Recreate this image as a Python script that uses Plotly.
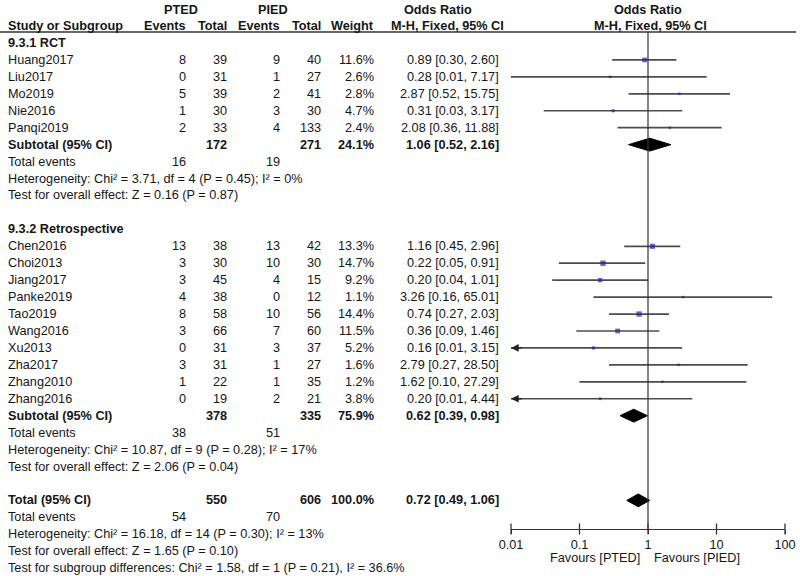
import plotly.graph_objects as go
import numpy as np

# ---------------- data ----------------
rct_studies = ["Huang2017", "Liu2017", "Mo2019", "Nie2016", "Panqi2019"]
rct_pted_events = [8, 0, 5, 1, 2]
rct_pted_total = [39, 31, 39, 30, 33]
rct_pied_events = [9, 1, 2, 3, 4]
rct_pied_total = [40, 27, 41, 30, 133]
rct_weight = [11.6, 2.6, 2.8, 4.7, 2.4]
rct_or = [0.89, 0.28, 2.87, 0.31, 2.08]
rct_lo = [0.30, 0.01, 0.52, 0.03, 0.36]
rct_hi = [2.60, 7.17, 15.75, 3.17, 11.88]
rct_arrow = [False, False, False, False, False]

ret_studies = ["Chen2016", "Choi2013", "Jiang2017", "Panke2019", "Tao2019",
               "Wang2016", "Xu2013", "Zha2017", "Zhang2010", "Zhang2016"]
ret_pted_events = [13, 3, 3, 4, 8, 3, 0, 3, 1, 0]
ret_pted_total = [38, 30, 45, 38, 58, 66, 31, 31, 22, 19]
ret_pied_events = [13, 10, 4, 0, 10, 7, 3, 1, 1, 2]
ret_pied_total = [42, 30, 15, 12, 56, 60, 37, 27, 35, 21]
ret_weight = [13.3, 14.7, 9.2, 1.1, 14.4, 11.5, 5.2, 1.6, 1.2, 3.8]
ret_or = [1.16, 0.22, 0.20, 3.26, 0.74, 0.36, 0.16, 2.79, 1.62, 0.20]
ret_lo = [0.45, 0.05, 0.04, 0.16, 0.27, 0.09, 0.01, 0.27, 0.10, 0.01]
ret_hi = [2.96, 0.91, 1.01, 65.01, 2.03, 1.46, 3.15, 28.50, 27.29, 4.44]
ret_arrow = [False, False, False, False, False, False, True, False, False, True]

# subtotals: [pted_total, pied_total, weight, or, lo, hi, pted_events, pied_events]
rct_sub = [172, 271, "24.1%", 1.06, 0.52, 2.16, 16, 19]
rct_het = "Heterogeneity: Chi² = 3.71, df = 4 (P = 0.45); I² = 0%"
rct_test = "Test for overall effect: Z = 0.16 (P = 0.87)"
ret_sub = [378, 335, "75.9%", 0.62, 0.39, 0.98, 38, 51]
ret_het = "Heterogeneity: Chi² = 10.87, df = 9 (P = 0.28); I² = 17%"
ret_test = "Test for overall effect: Z = 2.06 (P = 0.04)"
tot = [550, 606, "100.0%", 0.72, 0.49, 1.06, 54, 70]
tot_het = "Heterogeneity: Chi² = 16.18, df = 14 (P = 0.30); I² = 13%"
tot_test = "Test for overall effect: Z = 1.65 (P = 0.10)"
subgroup_test = "Test for subgroup differences: Chi² = 1.58, df = 1 (P = 0.21), I² = 36.6%"

tick_vals = [0.01, 0.1, 1, 10, 100]
tick_text = ["0.01", "0.1", "1", "10", "100"]

# ---------------- layout helpers ----------------
W, H = 800, 576
ROW0, ROWH = 43.0, 16.94
def yrow(py):                # pixel y -> row units
    return (py - ROW0) / ROWH
def px(xp):                  # pixel x -> paper
    return xp / W
def py(yp):                  # pixel y -> paper
    return 1 - yp / H

FONT = "Liberation Sans, Arial, sans-serif"
FS = 12.7
TXT = "#161616"
LINE = "#4c4c4c"
BLUE = "#2424a4"

COL_STUDY = 7
COL_PTE = 187
COL_PTT = 228
COL_PIE = 281
COL_PIT = 322
COL_W = 375
COL_OR = 500

ann = []
def txt(xpx, row, s, anchor="right", bold=False, size=FS):
    ann.append(dict(x=px(xpx), xref="paper", y=row, yref="y",
                    text=f"<b>{s}</b>" if bold else str(s), showarrow=False,
                    xanchor=anchor, yanchor="middle", borderpad=0,
                    font=dict(family=FONT, size=size, color=TXT)))

def fmt_or(o, l, h):
    return f"{o:.2f} [{l:.2f}, {h:.2f}]"

fig = go.Figure()

# header
txt(181, yrow(10), "PTED", anchor="center", bold=True)
txt(273, yrow(10), "PIED", anchor="center", bold=True)
txt(438, yrow(10), "Odds Ratio", anchor="center", bold=True)
txt(648, yrow(10), "Odds Ratio", anchor="center", bold=True)
hr = yrow(26)
txt(COL_STUDY, hr, "Study or Subgroup", anchor="left", bold=True)
txt(COL_PTE, hr, "Events", bold=True)
txt(COL_PTT, hr, "Total", bold=True)
txt(COL_PIE, hr, "Events", bold=True)
txt(COL_PIT, hr, "Total", bold=True)
txt(COL_W, hr, "Weight", bold=True)
txt(447, hr, "M-H, Fixed, 95% CI", anchor="center", bold=True)
txt(650, hr, "M-H, Fixed, 95% CI", anchor="center", bold=True)

line_x, line_y = [], []
mk_x, mk_y, mk_s = [], [], []
arrows = []

def diamond(o, l, h, r, hh=0.38):
    fig.add_trace(go.Scatter(x=[l, o, h, o, l], y=[r, r - hh, r, r + hh, r],
                             mode="lines", fill="toself", fillcolor="black",
                             line=dict(color="black", width=1), hoverinfo="skip",
                             showlegend=False))

def group(title, r0, studies, pe, pt, ie, it, w, o, lo, hi, arr, sub, het, test):
    txt(COL_STUDY, r0, title, anchor="left", bold=True)
    for i, s in enumerate(studies):
        r = r0 + 1 + i
        txt(COL_STUDY, r, s, anchor="left")
        txt(COL_PTE, r, pe[i]); txt(COL_PTT, r, pt[i])
        txt(COL_PIE, r, ie[i]); txt(COL_PIT, r, it[i])
        txt(COL_W, r, f"{w[i]:.1f}%")
        txt(COL_OR, r, fmt_or(o[i], lo[i], hi[i]))
        line_x.extend([lo[i], hi[i], None]); line_y.extend([r, r, None])
        mk_x.append(o[i]); mk_y.append(r); mk_s.append(max(2.5, 1.4 * np.sqrt(w[i])))
        if arr[i]:
            arrows.append((lo[i], r))
    rs = r0 + 1 + len(studies)
    txt(COL_STUDY, rs, "Subtotal (95% CI)", anchor="left", bold=True)
    txt(COL_PTT, rs, sub[0], bold=True); txt(COL_PIT, rs, sub[1], bold=True)
    txt(COL_W, rs, sub[2], bold=True)
    txt(COL_OR, rs, fmt_or(sub[3], sub[4], sub[5]), bold=True)
    diamond(sub[3], sub[4], sub[5], rs)
    txt(COL_STUDY, rs + 1, "Total events", anchor="left")
    txt(COL_PTE, rs + 1, sub[6]); txt(COL_PIE, rs + 1, sub[7])
    txt(COL_STUDY, rs + 2, het, anchor="left")
    txt(COL_STUDY, rs + 3, test, anchor="left")
    return rs + 3

end1 = group("9.3.1 RCT", 0, rct_studies, rct_pted_events, rct_pted_total,
             rct_pied_events, rct_pied_total, rct_weight, rct_or, rct_lo, rct_hi,
             rct_arrow, rct_sub, rct_het, rct_test)
end2 = group("9.3.2 Retrospective", end1 + 2, ret_studies, ret_pted_events, ret_pted_total,
             ret_pied_events, ret_pied_total, ret_weight, ret_or, ret_lo, ret_hi,
             ret_arrow, ret_sub, ret_het, ret_test)
rt = end2 + 2
txt(COL_STUDY, rt, "Total (95% CI)", anchor="left", bold=True)
txt(COL_PTT, rt, tot[0], bold=True); txt(COL_PIT, rt, tot[1], bold=True)
txt(COL_W, rt, tot[2], bold=True)
txt(COL_OR, rt, fmt_or(tot[3], tot[4], tot[5]), bold=True)
diamond(tot[3], tot[4], tot[5], rt)
txt(COL_STUDY, rt + 1, "Total events", anchor="left")
txt(COL_PTE, rt + 1, tot[6]); txt(COL_PIE, rt + 1, tot[7])
txt(COL_STUDY, rt + 2, tot_het, anchor="left")
txt(COL_STUDY, rt + 3, tot_test, anchor="left")
txt(COL_STUDY, rt + 4, subgroup_test, anchor="left")

# CI lines
fig.add_trace(go.Scatter(x=line_x, y=line_y, mode="lines",
                         line=dict(color=LINE, width=1.7), hoverinfo="skip", showlegend=False))
# null line
axis_row = yrow(529)
fig.add_trace(go.Scatter(x=[1, 1], y=[yrow(32), axis_row], mode="lines",
                         line=dict(color="#333333", width=1.2), hoverinfo="skip", showlegend=False))
# point estimates
fig.add_trace(go.Scatter(x=mk_x, y=mk_y, mode="markers",
                         marker=dict(symbol="square", size=mk_s, color=BLUE, line=dict(width=0)),
                         hoverinfo="skip", showlegend=False))
# tick marks crossing the axis
fig.add_trace(go.Scatter(x=tick_vals, y=[axis_row] * len(tick_vals), mode="markers",
                         marker=dict(symbol="line-ns", size=8, line=dict(color="#333333", width=1.3)),
                         hoverinfo="skip", showlegend=False, cliponaxis=False))

for (lx, r) in arrows:
    ann.append(dict(x=np.log10(lx), xref="x", y=r, yref="y", ax=np.log10(lx) + 0.18, axref="x",
                    ay=r, ayref="y", text="", showarrow=True, arrowhead=2, arrowsize=1.1,
                    arrowwidth=1.4, arrowcolor="#222222"))

# favours labels
txt(641, yrow(558), "Favours [PTED]", anchor="right")
txt(653, yrow(558), "Favours [PIED]", anchor="left")

fig.update_layout(
    template="none",
    width=W, height=H, margin=dict(l=0, r=0, t=0, b=0, autoexpand=False),
    paper_bgcolor="white", plot_bgcolor="rgba(0,0,0,0)",
    annotations=ann,
    shapes=[dict(type="line", xref="paper", yref="paper", x0=px(0), x1=px(796),
                 y0=py(32), y1=py(32), line=dict(color="#333333", width=1.5))],
    xaxis=dict(type="log", range=[-2, 2], domain=[px(511), px(785)], anchor="free",
               position=py(529), showline=True, linecolor="#333333", linewidth=1.3,
               tickvals=tick_vals, ticktext=tick_text, ticks="outside", ticklen=4,
               tickcolor="#333333", showgrid=False, zeroline=False, automargin=False,
               tickfont=dict(family=FONT, size=FS, color=TXT)),
    yaxis=dict(range=[yrow(H), yrow(0)], domain=[0, 1], visible=False,
               showgrid=False, zeroline=False, automargin=False),
    showlegend=False,
)

fig.write_html("out.html", config={"displayModeBar": False},
               post_script="document.body.style.margin='0';document.body.style.overflow='hidden';")
